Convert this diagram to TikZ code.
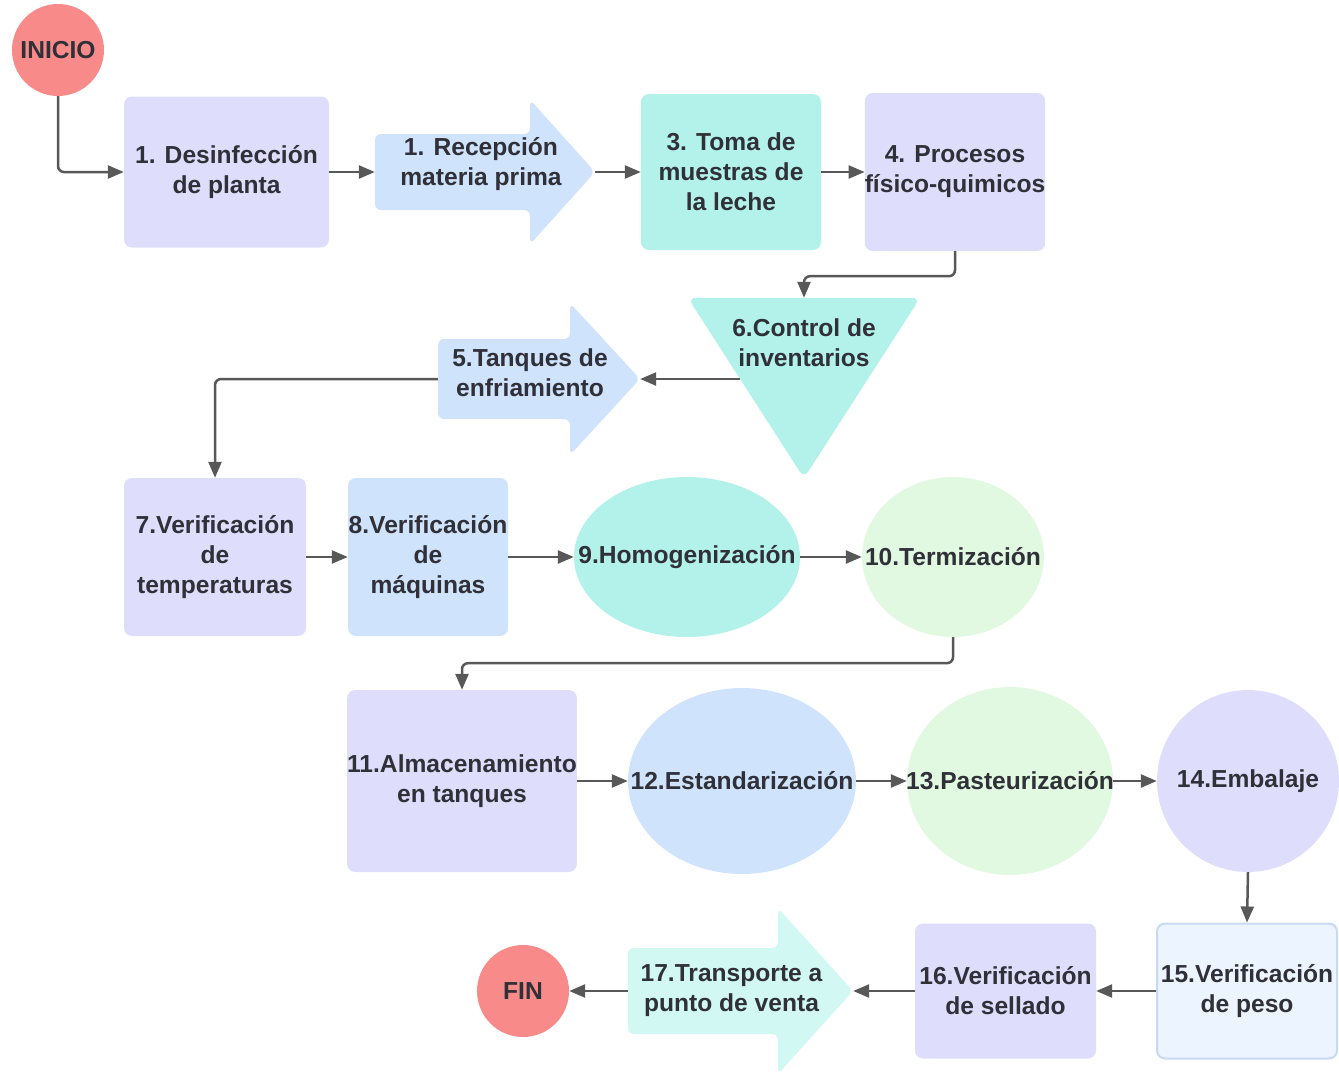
\documentclass[tikz,border=0pt]{standalone}
\usepackage{fontspec}
\setmainfont{Liberation Sans}
\usetikzlibrary{arrows.meta,shapes.geometric}

\definecolor{salmon}{HTML}{F88A8A}
\definecolor{lavanda}{HTML}{DEDEFC}
\definecolor{celeste}{HTML}{CFE3FC}
\definecolor{aguamarina}{HTML}{B3F2EA}
\definecolor{verdepal}{HTML}{E2F9E1}
\definecolor{aguaclaro}{HTML}{D1F8F3}
\definecolor{azulpal}{HTML}{ECF4FF}
\definecolor{bordeazul}{HTML}{C6DAF3}
\definecolor{gristexto}{HTML}{303038}
\definecolor{grislinea}{HTML}{585858}

\tikzset{
  texto/.style={text=gristexto, font=\fontsize{24.6}{30}\selectfont\bfseries, align=center, inner sep=0pt},
  caja/.style={texto, rectangle, rounded corners=8},
  ovalo/.style={ellipse, inner sep=0pt},
  redondo/.style={texto, circle},
  conector/.style={grislinea, line width=2.5, -{Triangle[length=16,width=13]}, rounded corners=6},
}

\begin{document}
\begin{tikzpicture}[x=1pt,y=-1pt]
      \useasboundingbox (0,0) rectangle (1339,1074);
      % fila 1
      \node [redondo,fill=salmon,minimum size=92] (inicio) at (58,50) {INICIO};
      \node [caja,fill=lavanda,minimum width=205,minimum height=151] (desinf) at (226.5,172) {1. Desinfección\\de planta};
      \fill [celeste,rounded corners=6] (375,134) -- (530,134) -- (530,99.5) -- (595,172) -- (530,244.5) -- (530,210) -- (375,210) -- cycle;
      \node [minimum width=220,minimum height=76,label={[texto,xshift=-4,yshift=8]center:1. Recepción\\materia prima}] (recep) at (485,172) {};
      \node [caja,fill=aguamarina,minimum width=180,minimum height=156] (muestras) at (731,172) {3. Toma de\\muestras de\\la leche};
      \node [caja,fill=lavanda,minimum width=180,minimum height=158] (procesos) at (955,172) {4. Procesos\\físico-quimicos};
      % fila 2
      \node [minimum width=232,minimum height=180] (control) at (804,388) {};
      \fill [aguamarina,rounded corners=8] (control.north west) -- (control.north east) -- (control.south) -- cycle;
      \node [texto] (controltxt) at (804,343) {6.Control de\\inventarios};
      \fill [celeste,rounded corners=6] (438,339) -- (570,339) -- (570,303) -- (640,379) -- (570,455) -- (570,419) -- (438,419) -- cycle;
      \node [minimum width=202,minimum height=80,label={[texto,xshift=-9,yshift=6]center:5.Tanques de\\enfriamiento}] (tanques) at (539,379) {};
      % fila 3
      \node [caja,fill=lavanda,minimum width=182,minimum height=158] (temp) at (215,557) {7.Verificación\\de\\temperaturas};
      \node [caja,fill=celeste,minimum width=160,minimum height=158] (maquinas) at (428,557) {8.Verificación\\de\\máquinas};
      \node [ovalo,fill=aguamarina,minimum width=226,minimum height=160,label={[texto]center:9.Homogenización}] (homog) at (687,557) {};
      \node [ovalo,fill=verdepal,minimum width=182,minimum height=160,label={[texto]center:10.Termización}] (termiz) at (953,557) {};
      % fila 4
      \node [caja,fill=lavanda,minimum width=228,minimum height=182] (almac) at (462,781) {11.Almacenamiento\\en tanques};
      \node [ovalo,fill=celeste,minimum width=228,minimum height=186,label={[texto]center:12.Estandarización}] (estand) at (742,781) {};
      \node [ovalo,fill=verdepal,minimum width=206,minimum height=188,label={[texto]center:13.Pasteurización}] (pasteur) at (1010,781) {};
      \node [ovalo,fill=lavanda,minimum width=182,minimum height=182,label={[texto]center:14.Embalaje}] (embalaje) at (1248,781) {};
      % fila 5
      \node [caja,fill=azulpal,draw=bordeazul,line width=2,minimum width=180,minimum height=135] (peso) at (1247,991) {15.Verificación\\de peso};
      \node [caja,fill=lavanda,minimum width=181,minimum height=135] (sellado) at (1005.5,991) {16.Verificación\\de sellado};
      \fill [aguaclaro,rounded corners=6] (628,948) -- (778,948) -- (778,908) -- (853,991) -- (778,1074) -- (778,1034) -- (628,1034) -- cycle;
      \node [minimum width=225,minimum height=86,label={[texto,xshift=-9]center:17.Transporte a\\punto de venta}] (transporte) at (740.5,991) {};
      \node [redondo,fill=salmon,minimum size=92] (fin) at (523,991) {FIN};
      % conectores
      \draw [conector] (inicio.south) |- (desinf.west);
      \draw [conector] (desinf.east) -- (recep.west);
      \draw [conector] (recep.east) -- (muestras.west);
      \draw [conector] (muestras.east) -- (procesos.west);
      \draw [conector] (procesos.south) -- ++(0,25) -| (control.north);
      \draw [conector] (control.north west |- tanques.east) ++(52,0) -- (tanques.east);
      \draw [conector] (tanques.west) -| (temp.north);
      \draw [conector] (temp.east) -- (maquinas.west);
      \draw [conector] (maquinas.east) -- (homog.west);
      \draw [conector] (homog.east) -- (termiz.west);
      \draw [conector] (termiz.south) -- ++(0,26) -| (almac.north);
      \draw [conector] (almac.east) -- (estand.west);
      \draw [conector] (estand.east) -- (pasteur.west);
      \draw [conector] (pasteur.east) -- (embalaje.west);
      \draw [conector] (embalaje.south) -- (peso.north);
      \draw [conector] (peso.west) -- (sellado.east);
      \draw [conector] (sellado.west) -- (transporte.east);
      \draw [conector] (transporte.west) -- (fin.east);
    \end{tikzpicture}
\end{document}
